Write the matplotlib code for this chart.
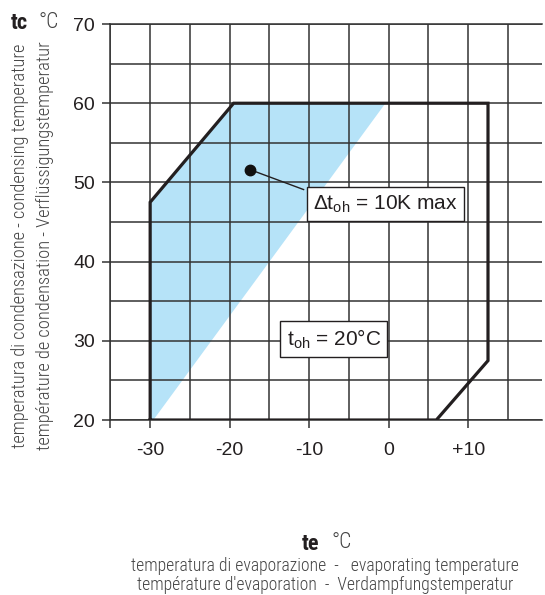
import matplotlib
matplotlib.use("Agg")
import matplotlib.pyplot as plt
from matplotlib import font_manager

# fonts
plt.rcParams['font.family'] = ['Liberation Sans', 'DejaVu Sans']
plt.rcParams['mathtext.fontset'] = 'custom'
plt.rcParams['mathtext.rm'] = 'Liberation Sans'
plt.rcParams['axes.unicode_minus'] = False

# pick a narrow face if one is installed, else plain Liberation Sans smaller
installed = {f.name for f in font_manager.fontManager.ttflist}
NARROW = ['Liberation Sans', 'DejaVu Sans']
lab_size = 10.4
for name in ['Liberation Sans Narrow', 'DejaVu Sans Condensed', 'Roboto Condensed',
             'Open Sans Condensed']:
    if name in installed:
        NARROW = [name, 'DejaVu Sans']
        lab_size = 12.7
        break
ylab_size = lab_size * 1.04

# Data: operating envelope (te, tc)
env_te = [-30, -30, -19.5, 12.5, 12.5, 6, -30]
env_tc = [20, 47.5, 60, 60, 27.5, 20, 20]

# shaded area for superheat 10K max
blue_te = [-30, -30, -19.5, -0.4, -29.6]
blue_tc = [20, 47.5, 60, 60, 20]

x_major = [-35, -30, -20, -10, 0, 10]
x_labels = ['', '-30', '-20', '-10', '0', '+10']
x_minor = [-25, -15, -5, 5, 15]
y_major = [20, 30, 40, 50, 60, 70]
y_minor = [25, 35, 45, 55, 65]

dot = (-17.4, 51.6)
leader_end = (-10.7, 49.1)
label_sh = (-0.4, 47.3)
label_t = (-6.9, 30.2)

# Plot
fig = plt.figure(figsize=(5.45, 5.95), dpi=100, facecolor='white')
ax = fig.add_axes([0.2026, 0.2941, 0.792, 0.6655])

ax.fill(blue_te, blue_tc, color='#b6e3f8', lw=0, zorder=1)
ax.plot(env_te, env_tc, color='#231f20', lw=2.3, solid_joinstyle='miter', zorder=3)

ax.plot([dot[0], leader_end[0]], [dot[1], leader_end[1]], color='#231f20', lw=1.0, zorder=3)
ax.plot(dot[0], dot[1], 'o', color='#111111', ms=7.5, zorder=4)

box = dict(boxstyle='square,pad=0.3', fc='white', ec='#231f20', lw=1.0)
ax.text(label_sh[0], label_sh[1], r'$\Delta$t$_{\mathrm{oh}}$ = 10K max', fontsize=15,
        ha='center', va='center', bbox=box, zorder=5, color='#231f20')
ax.text(label_t[0], label_t[1], r't$_{\mathrm{oh}}$ = 20°C', fontsize=15,
        ha='center', va='center', bbox=box, zorder=5, color='#231f20')

ax.set_xlim(-35, 19.3)
ax.set_ylim(20, 70)
ax.set_xticks(x_major)
ax.set_xticklabels(x_labels)
ax.set_xticks(x_minor, minor=True)
ax.set_yticks(y_major)
ax.set_yticks(y_minor, minor=True)
ax.tick_params(which='major', length=6, width=1.1, color='#333333', labelsize=14,
               labelcolor='#231f20')
ax.tick_params(axis='x', which='major', pad=10)
ax.tick_params(axis='y', which='major', pad=5)
ax.tick_params(which='minor', length=0)
ax.grid(which='both', color='#333333', lw=1.1)
for s in ['left', 'bottom', 'top']:
    ax.spines[s].set_color('#333333')
    ax.spines[s].set_linewidth(1.1)
ax.spines['right'].set_visible(False)

# axis titles
fig.text(11 / 545, 1 - 23 / 595, 'tc', fontsize=16, fontweight='bold', family=NARROW,
         ha='left', va='center', color='#231f20')
fig.text(39 / 545, 1 - 22 / 595, '°C', fontsize=15.5, fontweight='light', family=NARROW,
         ha='left', va='center', color='#444444')
fig.text(20 / 545, 1 - 246 / 595, 'temperatura di condensazione - condensing temperature',
         fontsize=ylab_size, fontweight='light', family=NARROW, rotation=90,
         ha='center', va='center', color='#444444')
fig.text(45 / 545, 1 - 246 / 595, 'température de condensation - Verflüssigungstemperatur',
         fontsize=ylab_size, fontweight='light', family=NARROW, rotation=90,
         ha='center', va='center', color='#444444')

fig.text(311 / 545, 1 - 544 / 595, 'te', fontsize=16, fontweight='bold', family=NARROW,
         ha='center', va='center', color='#231f20')
fig.text(342 / 545, 1 - 543 / 595, '°C', fontsize=15.5, fontweight='light', family=NARROW,
         ha='center', va='center', color='#444444')
fig.text(325 / 545, 1 - 566 / 595, 'temperatura di evaporazione  -   evaporating temperature',
         fontsize=lab_size, fontweight='light', family=NARROW, ha='center', va='center',
         color='#444444')
fig.text(325 / 545, 1 - 585 / 595, "température d'evaporation  -  Verdampfungstemperatur",
         fontsize=lab_size, fontweight='light', family=NARROW, ha='center', va='center',
         color='#444444')

fig.savefig('out.png', dpi=100, facecolor='white')
